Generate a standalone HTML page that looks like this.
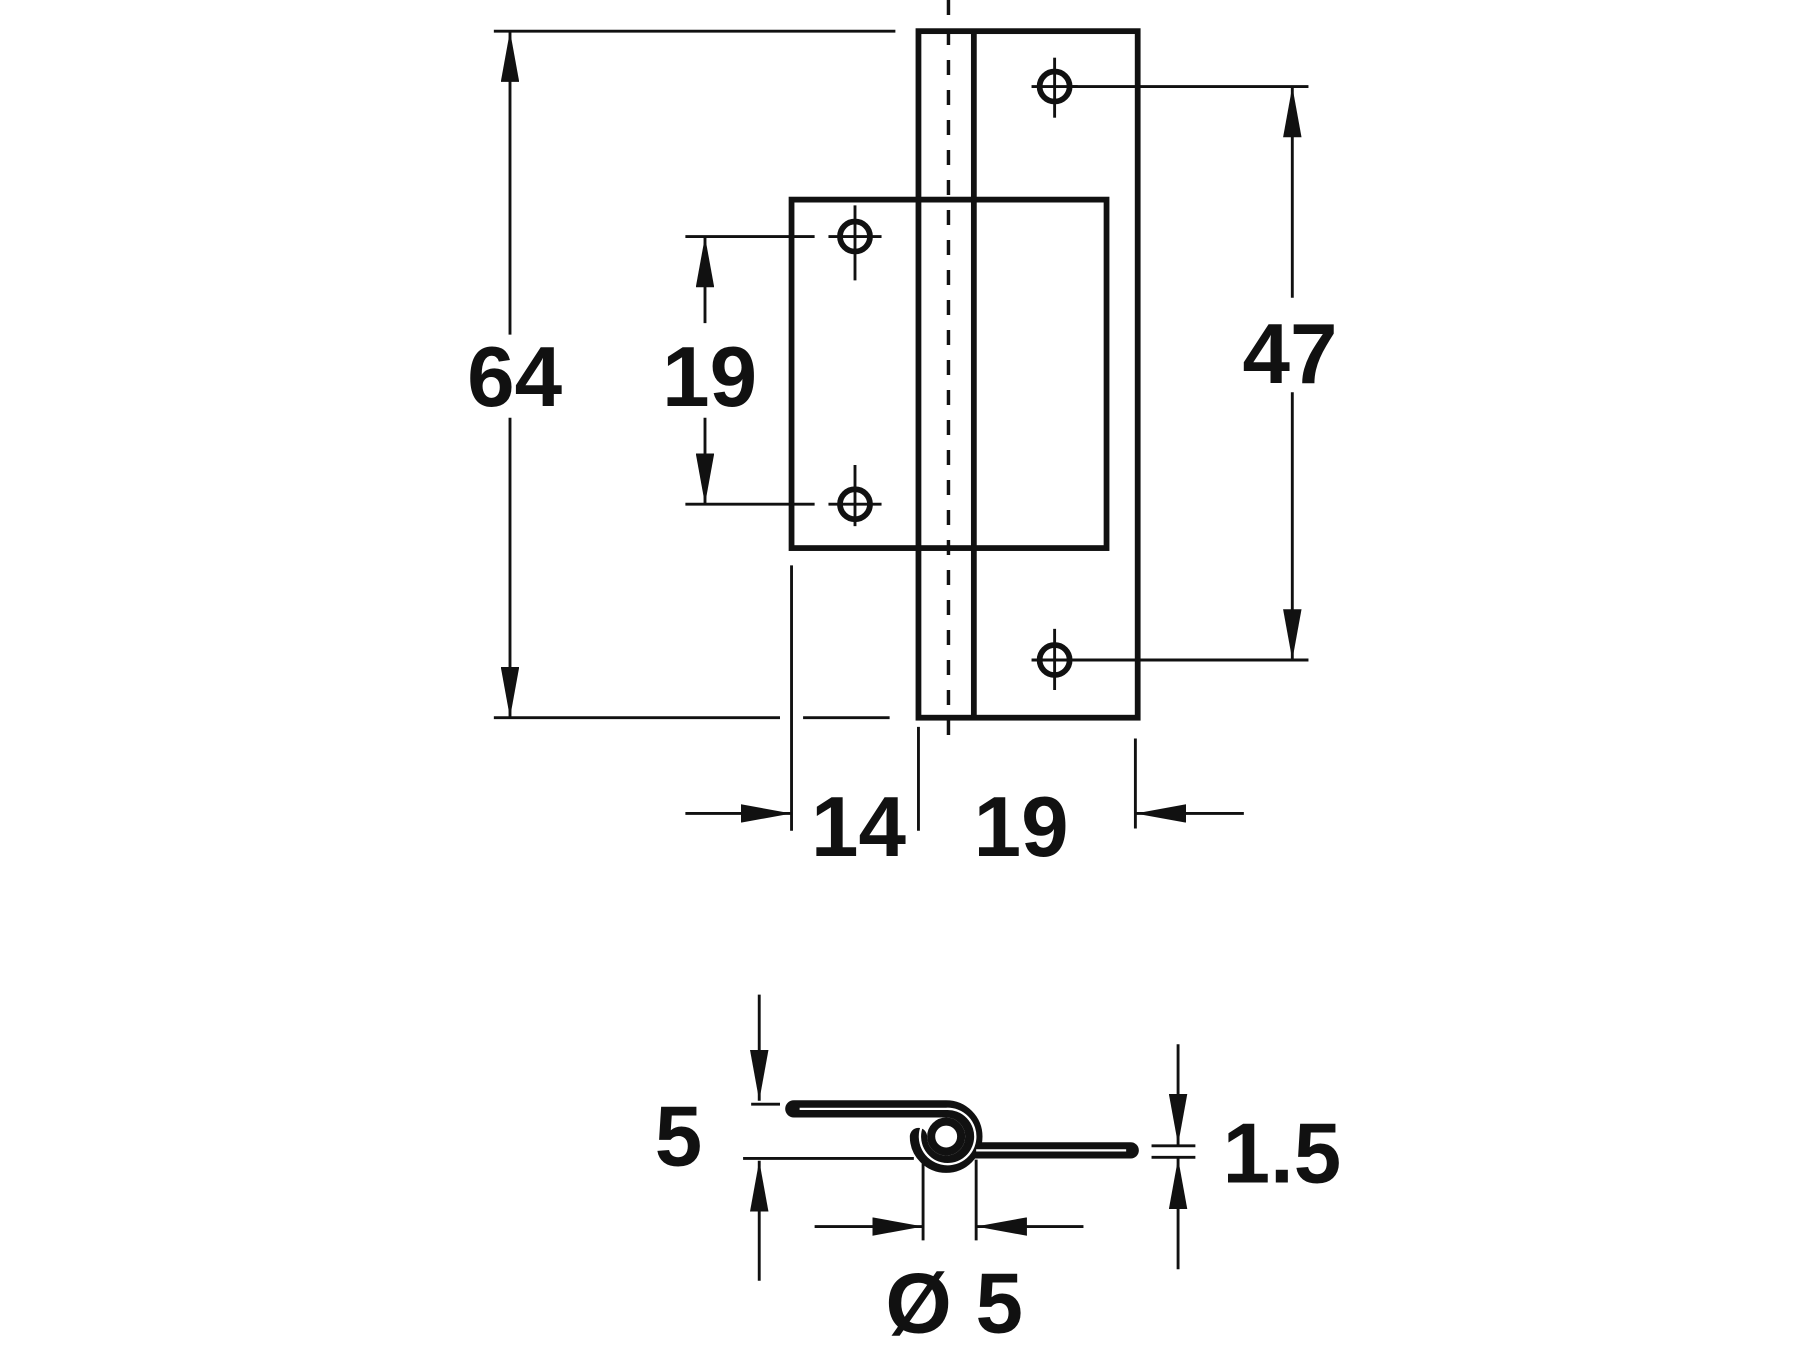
<!DOCTYPE html>
<html><head><meta charset="utf-8"><style>html,body{margin:0;padding:0;background:#fff}svg{display:block}</style></head>
<body>
<svg width="1800" height="1350" viewBox="0 0 1560 1170" xmlns="http://www.w3.org/2000/svg">
<defs>
<marker id="a" viewBox="0 0 44 16" refX="44" refY="8" markerWidth="44" markerHeight="16" markerUnits="userSpaceOnUse" orient="auto"><path d="M0,0 L44,8 L0,16 Z" fill="#111"/></marker>
</defs>
<g transform="translate(-4,0)">
<g stroke="#111" fill="none" stroke-linecap="butt">
<rect x="800" y="27" width="190" height="595" stroke-width="5"/>
<line x1="848" y1="27" x2="848" y2="622" stroke-width="5"/>
<line x1="826" y1="0" x2="826" y2="645" stroke-width="3" stroke-dasharray="13,13"/>
<rect x="690" y="173" width="273" height="302" stroke-width="5"/>
<g stroke-width="5">
<circle cx="918" cy="75" r="13"/><circle cx="745" cy="205" r="13"/><circle cx="745" cy="437" r="13"/><circle cx="918" cy="572" r="13"/>
</g>
<g stroke-width="2.5">
<line x1="918" y1="50" x2="918" y2="102"/><line x1="898" y1="75" x2="938" y2="75"/>
<line x1="745" y1="178" x2="745" y2="243"/><line x1="722" y1="205" x2="768" y2="205"/>
<line x1="745" y1="403" x2="745" y2="456"/><line x1="722" y1="437" x2="768" y2="437"/>
<line x1="918" y1="545" x2="918" y2="598"/><line x1="898" y1="572" x2="938" y2="572"/>
</g>
<g stroke-width="2.5">
<line x1="432" y1="27" x2="780" y2="27"/>
<line x1="432" y1="622" x2="680" y2="622"/><line x1="700" y1="622" x2="775" y2="622"/>
<line x1="446" y1="290" x2="446" y2="27" marker-end="url(#a)"/>
<line x1="446" y1="362" x2="446" y2="622" marker-end="url(#a)"/>
<line x1="598" y1="205" x2="710" y2="205"/><line x1="598" y1="437" x2="710" y2="437"/>
<line x1="615" y1="280" x2="615" y2="205" marker-end="url(#a)"/>
<line x1="615" y1="362" x2="615" y2="437" marker-end="url(#a)"/>
<line x1="930" y1="75" x2="1138" y2="75"/><line x1="930" y1="572" x2="1138" y2="572"/>
<line x1="1124" y1="258" x2="1124" y2="75" marker-end="url(#a)"/>
<line x1="1124" y1="340" x2="1124" y2="572" marker-end="url(#a)"/>
<line x1="690" y1="490" x2="690" y2="720"/>
<line x1="800" y1="630" x2="800" y2="720"/>
<line x1="988" y1="640" x2="988" y2="718"/>
<line x1="598" y1="705" x2="690" y2="705" marker-end="url(#a)"/>
<line x1="1082" y1="705" x2="988" y2="705" marker-end="url(#a)"/>
</g>
<!-- section view -->
<path d="M692,961 L824,961 A24,24 0 1 1 800,985" stroke-width="15" stroke-linecap="round"/>
<path d="M846,997 L984,997" stroke-width="14" stroke-linecap="round"/>
<circle cx="824" cy="985" r="13" stroke-width="7"/>
<path d="M697,961 L824,961 A24,24 0 1 1 803,976" stroke="#fff" stroke-width="2"/>
<path d="M850,997 L980,997" stroke="#fff" stroke-width="2"/>
<g stroke-width="2.5">
<line x1="662" y1="862" x2="662" y2="954" marker-end="url(#a)"/>
<line x1="655" y1="957" x2="680" y2="957"/>
<line x1="648" y1="1004" x2="796" y2="1004"/>
<line x1="662" y1="1110" x2="662" y2="1006" marker-end="url(#a)"/>
<line x1="1025" y1="905" x2="1025" y2="992" marker-end="url(#a)"/>
<line x1="1002" y1="993" x2="1040" y2="993"/><line x1="1002" y1="1003" x2="1040" y2="1003"/>
<line x1="1025" y1="1100" x2="1025" y2="1004" marker-end="url(#a)"/>
<line x1="804" y1="1005" x2="804" y2="1075"/><line x1="850" y1="1005" x2="850" y2="1075"/>
<line x1="710" y1="1063" x2="804" y2="1063" marker-end="url(#a)"/>
<line x1="943" y1="1063" x2="850" y2="1063" marker-end="url(#a)"/>
</g>
</g>
<g font-family="Liberation Sans, sans-serif" font-weight="bold" font-size="74" fill="#111" text-anchor="middle">
<text x="450" y="352">64</text>
<text x="619" y="352">19</text>
<text x="1122" y="332">47</text>
<text x="748" y="742">14</text>
<text x="889" y="742">19</text>
<text x="592" y="1010">5</text>
<text x="1115" y="1025">1.5</text>
<text x="831" y="1155">Ø 5</text>
</g>
</g>
</svg>
</body></html>
